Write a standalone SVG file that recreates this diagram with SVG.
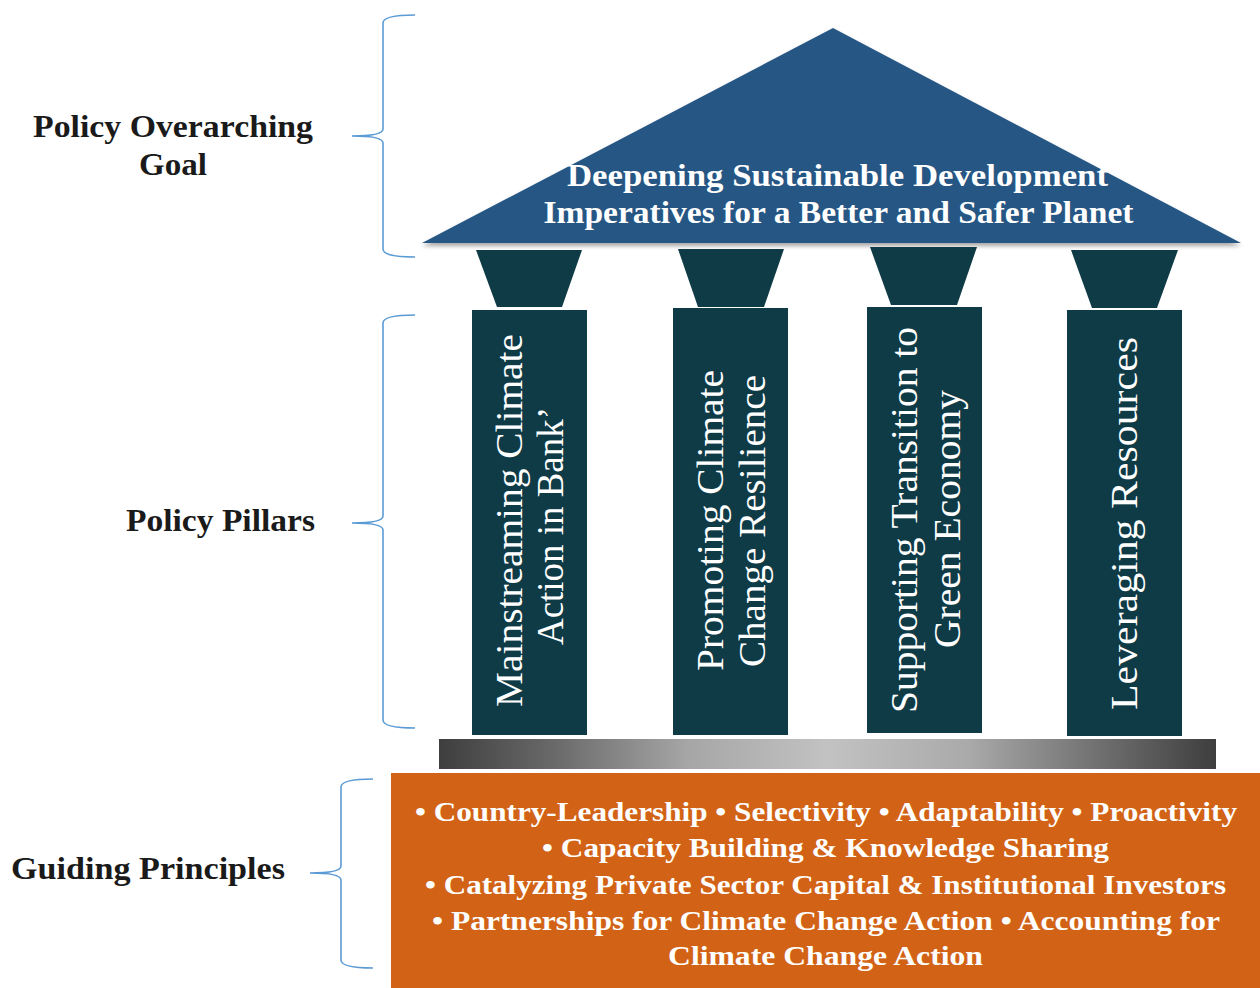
<svg xmlns="http://www.w3.org/2000/svg" width="1260" height="988" viewBox="0 0 1260 988">
<defs>
<style>
.lbl{font-family:"Liberation Serif","Times New Roman",serif;font-weight:bold;font-size:32px;fill:#1a1a1a;text-anchor:middle}
.wt{font-family:"Liberation Serif","Times New Roman",serif;font-weight:bold;fill:#ffffff;text-anchor:middle}
.roof-t{font-size:32px}
.pil-t{font-size:37px;font-weight:normal}
.org-t{font-size:28px}
.col{fill:#0f3b47}
.brace{fill:none;stroke:#5b9bd5;stroke-width:1.6}
</style>
<linearGradient id="base" x1="0" y1="0" x2="1" y2="0">
<stop offset="0" stop-color="#3e3e3e"/>
<stop offset="0.15" stop-color="#6a6a6a"/>
<stop offset="0.32" stop-color="#a6a6a6"/>
<stop offset="0.5" stop-color="#c2c2c2"/>
<stop offset="0.68" stop-color="#aaaaaa"/>
<stop offset="0.86" stop-color="#6c6c6c"/>
<stop offset="1" stop-color="#3e3e3e"/>
</linearGradient>
<filter id="sh" x="-5%" y="-5%" width="110%" height="115%">
<feDropShadow dx="0" dy="3" stdDeviation="2" flood-color="#000" flood-opacity="0.35"/>
</filter>
</defs>
<rect width="1260" height="988" fill="#ffffff"/>

<g id="labels">
<text class="lbl" x="173" y="137" textLength="280" lengthAdjust="spacingAndGlyphs">Policy Overarching</text>
<text class="lbl" x="173" y="175" textLength="68" lengthAdjust="spacingAndGlyphs">Goal</text>
<text class="lbl" x="220.5" y="531" textLength="189" lengthAdjust="spacingAndGlyphs">Policy Pillars</text>
<text class="lbl" x="148" y="879" textLength="274" lengthAdjust="spacingAndGlyphs">Guiding Principles</text>
</g>

<g id="braces">
<path class="brace" d="M415,15 Q383,15 383,23 L383,129 Q383,136 352,136 Q383,136 383,143 L383,249 Q383,257 415,257"/>
<path class="brace" d="M415,315 Q383,315 383,323 L383,516 Q383,523 352,523 Q383,523 383,530 L383,720 Q383,728 415,728"/>
<path class="brace" d="M373,779 Q341,779 341,787 L341,866 Q341,873 310,873 Q341,873 341,880 L341,960 Q341,968 373,968"/>
</g>

<g id="roof">
<polygon points="833,28 1241,243 422,243" fill="#275784" filter="url(#sh)"/>
<text class="wt roof-t" x="837.5" y="186" textLength="541" lengthAdjust="spacingAndGlyphs">Deepening Sustainable Development</text>
<text class="wt roof-t" x="838.5" y="223" textLength="590" lengthAdjust="spacingAndGlyphs">Imperatives for a Better and Safer Planet</text>
</g>

<g id="pillar1">
<polygon class="col" points="476,250 582,250 562,307 497,307"/>
<rect class="col" x="472" y="310" width="115" height="425"/>
<text class="wt pil-t" transform="translate(522,520.5) rotate(-90)" textLength="373" lengthAdjust="spacingAndGlyphs">Mainstreaming Climate</text>
<text class="wt pil-t" transform="translate(563,526) rotate(-90)" textLength="238" lengthAdjust="spacingAndGlyphs">Action in Bank’</text>
</g>

<g id="pillar2">
<polygon class="col" points="678,249 784,249 764,307 698,307"/>
<rect class="col" x="673" y="308" width="115" height="427"/>
<text class="wt pil-t" transform="translate(723,520.5) rotate(-90)" textLength="301" lengthAdjust="spacingAndGlyphs">Promoting Climate</text>
<text class="wt pil-t" transform="translate(765,521) rotate(-90)" textLength="292" lengthAdjust="spacingAndGlyphs">Change Resilience</text>
</g>

<g id="pillar3">
<polygon class="col" points="870,247 977,247 957,305 891,305"/>
<rect class="col" x="867" y="307" width="115" height="426"/>
<text class="wt pil-t" transform="translate(917,520) rotate(-90)" textLength="386" lengthAdjust="spacingAndGlyphs">Supporting Transition to</text>
<text class="wt pil-t" transform="translate(960,519) rotate(-90)" textLength="258" lengthAdjust="spacingAndGlyphs">Green Economy</text>
</g>

<g id="pillar4">
<polygon class="col" points="1071,250 1178,250 1157,308 1092,308"/>
<rect class="col" x="1067" y="310" width="115" height="426"/>
<text class="wt pil-t" transform="translate(1137,523.5) rotate(-90)" textLength="373" lengthAdjust="spacingAndGlyphs">Leveraging Resources</text>
</g>

<g id="base">
<rect x="439" y="739" width="777" height="30" fill="url(#base)"/>
</g>

<g id="principles">
<rect x="391" y="773" width="869" height="215" fill="#d26316"/>
<text class="wt org-t" x="826" y="821" textLength="822" lengthAdjust="spacingAndGlyphs">• Country-Leadership • Selectivity • Adaptability • Proactivity</text>
<text class="wt org-t" x="825.5" y="857" textLength="567" lengthAdjust="spacingAndGlyphs">• Capacity Building &amp; Knowledge Sharing</text>
<text class="wt org-t" x="825.5" y="894" textLength="801" lengthAdjust="spacingAndGlyphs">• Catalyzing Private Sector Capital &amp; Institutional Investors</text>
<text class="wt org-t" x="826" y="930" textLength="788" lengthAdjust="spacingAndGlyphs">• Partnerships for Climate Change Action • Accounting for</text>
<text class="wt org-t" x="825.5" y="965" textLength="315" lengthAdjust="spacingAndGlyphs">Climate Change Action</text>
</g>
</svg>
